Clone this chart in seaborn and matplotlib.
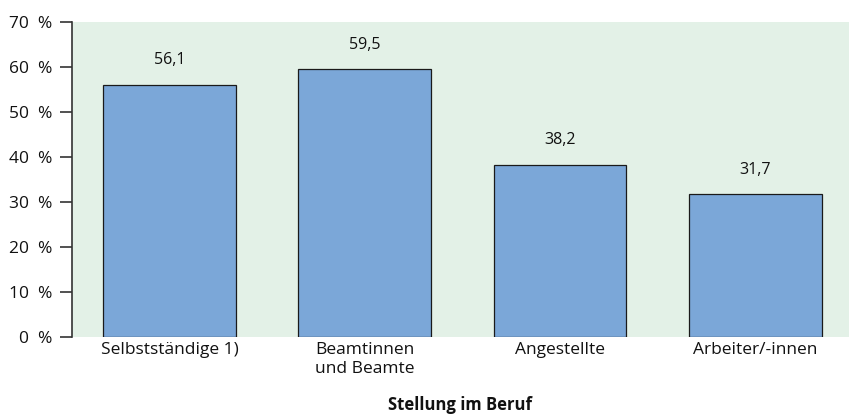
import numpy as np
import pandas as pd
import seaborn as sns
import matplotlib.pyplot as plt

# Anteil nach Stellung im Beruf (%)
categories = ['Selbstständige 1)', 'Beamtinnen\nund Beamte', 'Angestellte', 'Arbeiter/-innen']
values = [56.1, 59.5, 38.2, 31.7]
y_ticks = [0, 10, 20, 30, 40, 50, 60, 70]

sns.set_theme(style='white')
plt.rcParams['font.family'] = ['Open Sans', 'DejaVu Sans']

df = pd.DataFrame({'cat': categories, 'val': values})

fig = plt.figure(figsize=(8.49, 4.17), dpi=100)
ax = fig.add_axes([0.0848, 0.192, 0.915, 0.755])
ax.set_facecolor('#E3F1E7')

sns.barplot(data=df, x='cat', y='val', color='#7BA7D8', saturation=1,
            width=0.68, edgecolor='#1a1a1a', linewidth=0.9, ax=ax)

for i, v in enumerate(values):
    ax.text(i, v + 5.5, f'{v:.1f}'.replace('.', ','), ha='center', va='center',
            fontsize=11.5, color='#111111')

ax.set_ylim(0, 70)
ax.set_xlim(-0.5, 3.48)
ax.set_yticks(y_ticks)
ax.set_yticklabels([f'{t}  %' for t in y_ticks], fontsize=12.5, color='#111111')
ax.tick_params(axis='y', length=9, width=1.2, color='#333333', left=True, pad=5)
ax.tick_params(axis='x', length=0, labelsize=12.5, labelcolor='#111111', pad=4)
ax.set_xlabel('Stellung im Beruf', fontsize=12, fontweight='bold', color='#111111', labelpad=14)
ax.set_ylabel('')

for s in ['top', 'right', 'bottom']:
    ax.spines[s].set_visible(False)
ax.spines['left'].set_color('#333333')
ax.spines['left'].set_linewidth(1.2)

fig.savefig('out.png', dpi=100)
